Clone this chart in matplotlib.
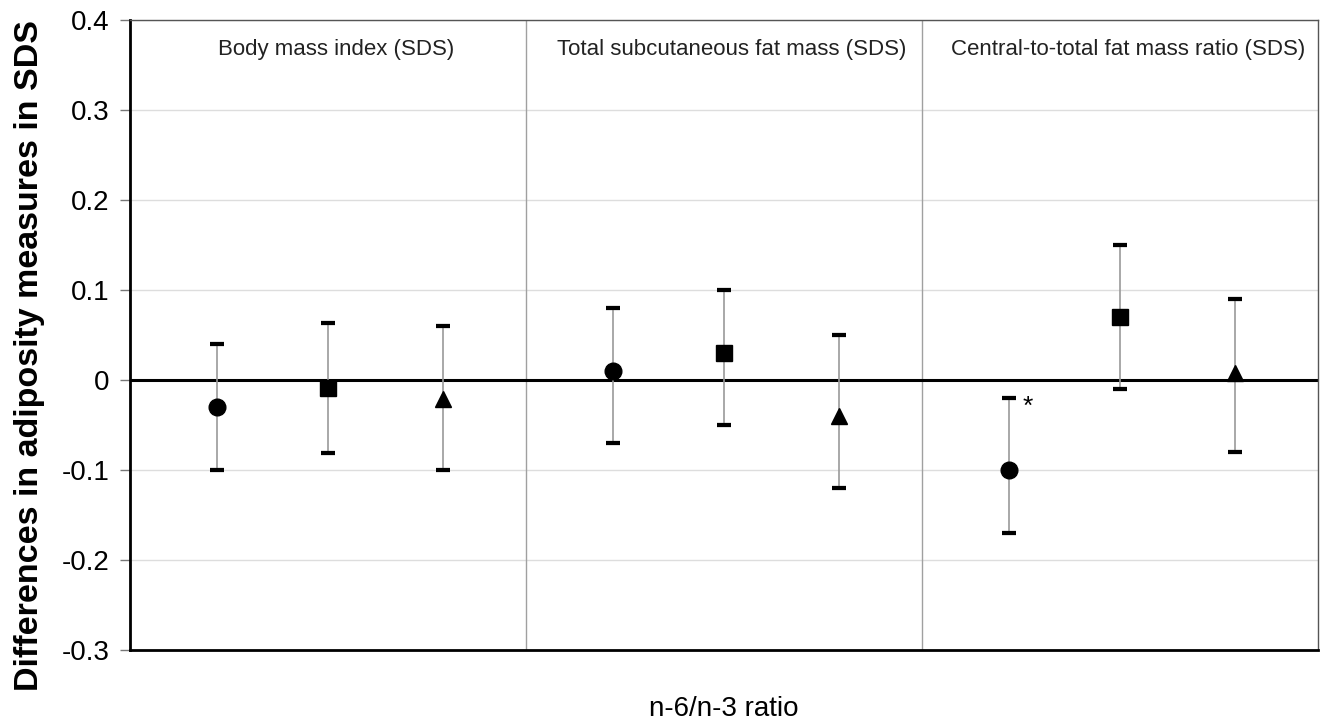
import matplotlib.pyplot as plt

plt.rcParams['font.family'] = ['Liberation Sans', 'DejaVu Sans']

# three outcome groups, three exposure levels each (circle, square, triangle)
groups = ["Body mass index (SDS)", "Total subcutaneous fat mass (SDS)",
          "Central-to-total fat mass ratio (SDS)"]
markers = ["o", "s", "^"]

est = [[-0.03, -0.009, -0.021],
       [0.01, 0.03, -0.04],
       [-0.10, 0.07, 0.008]]
lower = [[-0.10, -0.081, -0.10],
         [-0.07, -0.05, -0.12],
         [-0.17, -0.01, -0.08]]
upper = [[0.04, 0.063, 0.06],
         [0.08, 0.10, 0.05],
         [-0.02, 0.15, 0.09]]
yticks = [-0.3, -0.2, -0.1, 0, 0.1, 0.2, 0.3, 0.4]
ytick_labels = ["-0.3", "-0.2", "-0.1", "0", "0.1", "0.2", "0.3", "0.4"]

offsets = [0.22, 0.5, 0.79]

fig = plt.figure(figsize=(13.25, 7.21), dpi=100)
ax = fig.add_axes([0.0981, 0.0985, 0.8966, 0.8738])

for g in range(3):
    for k in range(3):
        x = g + offsets[k]
        y = est[g][k]
        ax.errorbar(x, y, yerr=[[y - lower[g][k]], [upper[g][k] - y]],
                    fmt="none", ecolor="#9a9a9a", elinewidth=1.2,
                    capsize=5, capthick=3, zorder=3)
        # caps in black
        ax.plot([x, x], [lower[g][k], upper[g][k]], ls="none", marker="_",
                markersize=10, markeredgewidth=3, color="black", zorder=4)
        ax.plot(x, y, marker=markers[k], color="black", markersize=12,
                ls="none", zorder=5)
    ax.text(g + 0.52, 0.367, groups[g], ha="center", va="center", fontsize=16,
            color="#222222")

# significance mark
ax.text(2 + offsets[0] + 0.048, -0.03, "*", fontsize=19, ha="center", va="center")

ax.axhline(0, color="black", lw=2.2, zorder=2)
for xs in [1, 2]:
    ax.axvline(xs, color="#a0a0a0", lw=1, zorder=1)

ax.set_xlim(0, 3)
ax.set_ylim(-0.3, 0.4)
ax.set_yticks(yticks)
ax.set_yticklabels(ytick_labels, fontsize=20)
ax.set_xticks([])
ax.yaxis.grid(True, color="#dddddd", lw=1)
ax.set_axisbelow(True)
ax.tick_params(axis="y", direction="out", length=7, width=1, color="#777777", pad=8)

for side in ["left", "bottom"]:
    ax.spines[side].set_linewidth(2)
for side in ["top", "right"]:
    ax.spines[side].set_linewidth(1)
    ax.spines[side].set_color("#555555")

fig.text(0.022, 0.507, "Differences in adiposity measures in SDS", fontsize=24.5,
         fontweight="bold", rotation=90, ha="center", va="center")
ax.set_xlabel("n-6/n-3 ratio", fontsize=20, labelpad=33)

fig.savefig("out.png", dpi=100)
